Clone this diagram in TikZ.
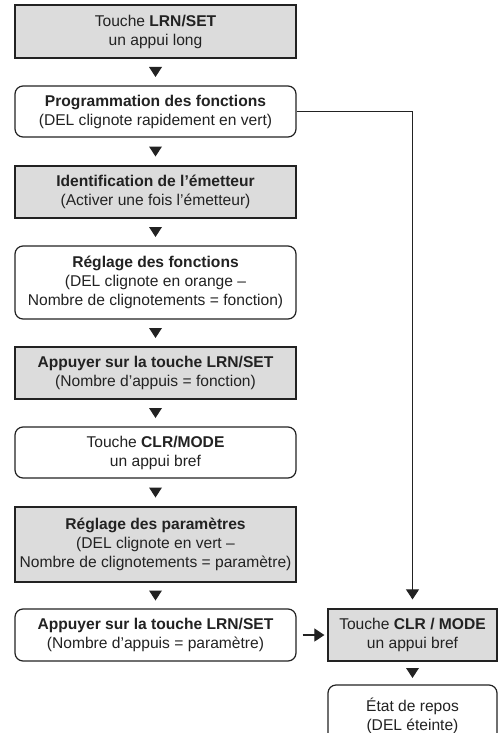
\documentclass[tikz,border=0pt]{standalone}
\usepackage{fontspec}
\setmainfont{Liberation Sans}
\usetikzlibrary{calc,arrows.meta}
\definecolor{boxgray}{HTML}{DCDCDC}
\definecolor{ink}{HTML}{222222}
\begin{document}
\begin{tikzpicture}[x=1pt,y=-1pt,
  base/.style={draw=ink, line width=1.2pt, align=center, inner sep=0pt,
    font=\fontsize{15.6}{19}\selectfont, text=ink},
  graybox/.style={base, fill=boxgray},
  whitebox/.style={base, fill=white, rounded corners=8pt},
  leftbox/.style={minimum width=281pt},
  rightbox/.style={minimum width=169pt},
  conn/.style={draw=ink, line width=1.1pt, -{Triangle[width=13pt,length=10pt]}}]
\useasboundingbox (0,0) rectangle (498,733);
\newcommand\downtri[2]{\fill[ink] ($(#1.south)!0.5!(#2.north)$) +(-6.5,-5) -- +(6.5,-5) -- +(0,5) -- cycle;}
\node[graybox, leftbox, minimum height=53pt] (b1) at (155.5,31.5) {Touche \textbf{LRN/SET}\\un appui long};
\node[whitebox, leftbox, minimum height=51pt] (b2) at (155.5,111.5) {\textbf{Programmation des fonctions}\\(DEL clignote rapidement en vert)};
\node[graybox, leftbox, minimum height=52pt] (b3) at (155.5,192) {\textbf{Identification de l’émetteur}\\(Activer une fois l’émetteur)};
\node[whitebox, leftbox, minimum height=73pt] (b4) at (155.5,282.5) {\textbf{Réglage des fonctions}\\(DEL clignote en orange –\\Nombre de clignotements = fonction)};
\node[graybox, leftbox, minimum height=52pt] (b5) at (155.5,373) {\textbf{Appuyer sur la touche LRN/SET}\\(Nombre d’appuis = fonction)};
\node[whitebox, leftbox, minimum height=51pt] (b6) at (155.5,452.5) {Touche \textbf{CLR/MODE}\\un appui bref};
\node[graybox, leftbox, minimum height=75pt] (b7) at (155.5,544.5) {\textbf{Réglage des paramètres}\\(DEL clignote en vert –\\Nombre de clignotements = paramètre)};
\node[whitebox, leftbox, minimum height=52pt] (b8) at (155.5,635) {\textbf{Appuyer sur la touche LRN/SET}\\(Nombre d’appuis = paramètre)};
\node[graybox, rightbox, minimum height=52pt] (b9) at (412.5,635) {Touche \textbf{CLR / MODE}\\un appui bref};
\node[whitebox, rightbox, minimum height=62pt] (b10) at (412.5,716) {État de repos\\(DEL éteinte)};
\downtri{b1}{b2}
\downtri{b2}{b3}
\downtri{b3}{b4}
\downtri{b4}{b5}
\downtri{b5}{b6}
\downtri{b6}{b7}
\downtri{b7}{b8}
\downtri{b9}{b10}
\draw[conn] (b2.east) -| ([yshift=9pt]b9.north);
\draw[conn] ([xshift=6pt]b8.east) -- ([xshift=-3pt]b9.west);
\end{tikzpicture}
\end{document}
